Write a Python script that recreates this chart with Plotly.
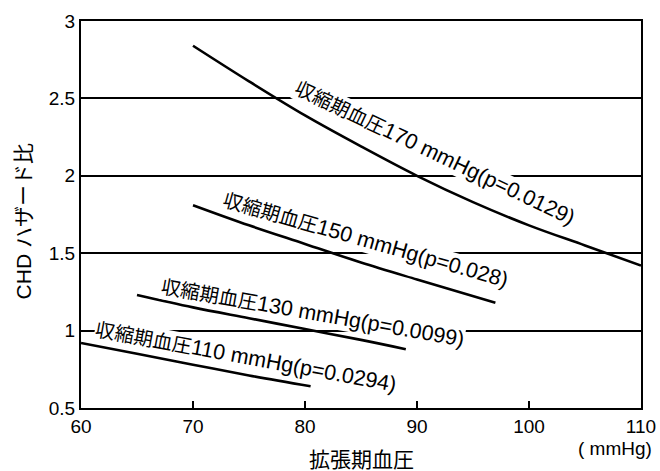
import plotly.graph_objects as go

# Data
dbp_170 = [70, 75, 80, 85, 90, 95, 100, 105, 110]
hr_170 = [2.84, 2.61, 2.39, 2.19, 2.00, 1.83, 1.68, 1.55, 1.42]
dbp_150 = [70, 75, 80, 85, 90, 97]
hr_150 = [1.81, 1.68, 1.56, 1.44, 1.33, 1.18]
dbp_130 = [65, 70, 75, 80, 85, 89]
hr_130 = [1.23, 1.15, 1.08, 1.01, 0.94, 0.88]
dbp_110 = [60, 65, 70, 75, 80.5]
hr_110 = [0.92, 0.85, 0.78, 0.71, 0.64]

label_head = "収縮期血圧"
label_tail = ["170 mmHg(p=0.0129)", "150 mmHg(p=0.028)", "130 mmHg(p=0.0099)", "110 mmHg(p=0.0294)"]
label_x = [91.6, 85.4, 80.7, 74.7]
label_y = [2.145, 1.585, 1.112, 0.83]
label_angle = [25.5, 16, 10, 10.5]

x_ticks = [60, 70, 80, 90, 100, 110]
y_ticks = [0.5, 1, 1.5, 2, 2.5, 3]
y_ticktext = ["0.5", "1", "1.5", "2", "2.5", "3"]

FONT = "Liberation Sans, Arial, Noto Sans CJK JP, sans-serif"

fig = go.Figure()
for xs, ys in [(dbp_170, hr_170), (dbp_150, hr_150), (dbp_130, hr_130), (dbp_110, hr_110)]:
    fig.add_trace(go.Scatter(x=xs, y=ys, mode="lines", line=dict(color="black", width=2.6, shape="spline"),
                             showlegend=False, hoverinfo="skip"))

for t, x, y, a in zip(label_tail, label_x, label_y, label_angle):
    fig.add_annotation(x=x, y=y, xref="x", yref="y",
                       text=f"<span style='font-size:19.5px'>{label_head}</span>{t}",
                       showarrow=False, textangle=a,
                       font=dict(family=FONT, size=21.5, color="black"), bgcolor="white", borderpad=0)

fig.add_annotation(x=-0.103, y=0.483, xref="paper", yref="paper", text="CHD ハザード比", textangle=-90,
                   xanchor="center", yanchor="middle",
                   showarrow=False, font=dict(family=FONT, size=21, color="black"))
fig.add_annotation(x=0.5, y=-0.134, xref="paper", yref="paper", text="拡張期血圧", showarrow=False,
                   font=dict(family=FONT, size=21, color="black"), xanchor="center", yanchor="middle")
fig.add_annotation(x=1.024, y=-0.105, xref="paper", yref="paper", text="(&nbsp;mmHg)", showarrow=False,
                   xanchor="right", yanchor="middle", font=dict(family=FONT, size=19, color="black"))

fig.update_xaxes(range=[60, 110], tickvals=x_ticks, ticktext=[str(v) for v in x_ticks],
                 ticks="inside", ticklen=7, tickwidth=1.5, tickcolor="black", automargin=False,
                 showline=True, linecolor="black", linewidth=2, mirror=True, showgrid=False,
                 zeroline=False, tickfont=dict(family=FONT, size=19, color="black"))
fig.update_yaxes(range=[0.5, 3], tickvals=y_ticks, ticktext=y_ticktext, automargin=False,
                 showline=True, linecolor="black", linewidth=2, mirror=True,
                 showgrid=True, gridcolor="black", gridwidth=1.5, zeroline=False,
                 tickfont=dict(family=FONT, size=19, color="black"))

fig.update_layout(width=660, height=471, margin=dict(l=81, r=19, t=21, b=63),
                  plot_bgcolor="white", paper_bgcolor="white")
fig.write_html("out.html", config={"displayModeBar": False},
               post_script="document.body.style.margin='0';")
